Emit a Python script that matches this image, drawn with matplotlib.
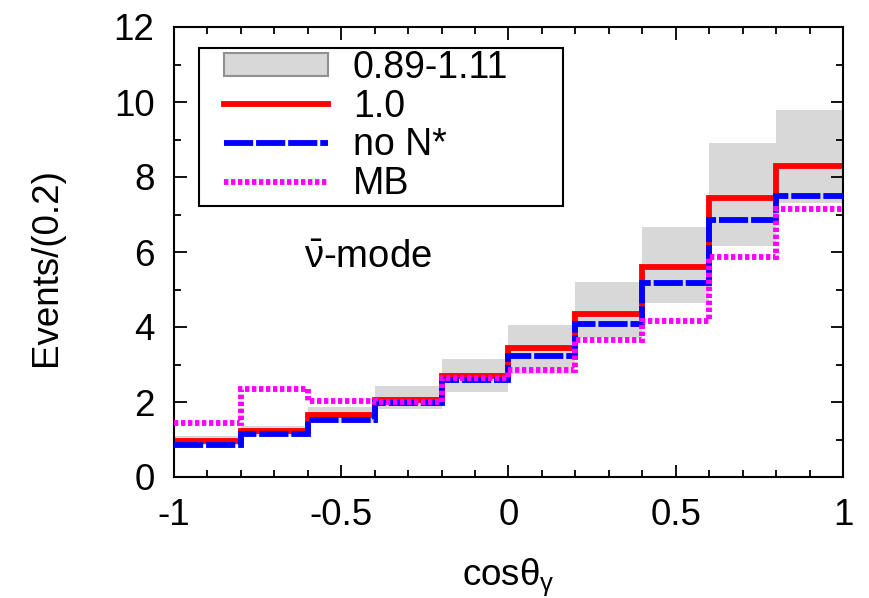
import numpy as np
import matplotlib
matplotlib.use("Agg")
import matplotlib.pyplot as plt
from matplotlib.patches import Patch, Rectangle
from matplotlib.lines import Line2D

plt.rcParams['font.family'] = ['Liberation Sans', 'DejaVu Sans']
plt.rcParams['mathtext.fontset'] = 'custom'
plt.rcParams['mathtext.rm'] = 'Liberation Sans'
plt.rcParams['mathtext.it'] = 'Liberation Sans:italic'

edges = [-1.0, -0.8, -0.6, -0.4, -0.2, 0.0, 0.2, 0.4, 0.6, 0.8, 1.0]
band_low = [0.85, 1.10, 1.45, 1.81, 2.28, 2.75, 3.70, 4.65, 6.17, 7.30]
band_high = [1.10, 1.37, 1.88, 2.43, 3.14, 4.05, 5.19, 6.68, 8.90, 9.80]
red_vals = [0.97, 1.24, 1.65, 2.05, 2.69, 3.43, 4.36, 5.61, 7.45, 8.29]
blue_vals = [0.86, 1.16, 1.52, 1.98, 2.59, 3.23, 4.07, 5.18, 6.85, 7.50]
mb_vals = [1.45, 2.35, 2.04, 2.00, 2.63, 2.85, 3.65, 4.17, 5.87, 7.14]

labels = ['0.89-1.11', '1.0', 'no N*', 'MB']
xticks = [-1, -0.5, 0, 0.5, 1]
xticklabels = ['-1', '-0.5', '0', '0.5', '1']
yticks = [0, 2, 4, 6, 8, 10, 12]

fig = plt.figure(figsize=(8.7, 5.98), dpi=100)
ax = fig.add_axes([174/870, 1-477/598, (843-174)/870, (477-27)/598])

gray = '#d8d8d8'
lw = 4.2
blue_ls = (0, (5, 0.5))
mb_ls = (0, (0.75, 0.45))
ax.stairs(band_high, edges, baseline=band_low, fill=True, color=gray, lw=0, zorder=1)
ax.stairs(red_vals, edges, baseline=None, color='#ff0000', lw=lw, zorder=2)
ax.stairs(blue_vals, edges, baseline=None, color='#0000ff', lw=lw, linestyle=blue_ls, zorder=3)
ax.stairs(mb_vals, edges, baseline=None, color='#ff00ff', lw=lw, linestyle=mb_ls, zorder=4)

ax.set_xlim(-1, 1)
ax.set_ylim(0, 12)
ax.set_xticks(xticks)
ax.set_xticklabels(xticklabels)
ax.set_yticks(yticks)
ax.set_xticks(np.arange(-1, 1.0001, 0.1), minor=True)
ax.set_yticks(np.arange(1, 12, 2), minor=True)
ax.tick_params(which='both', direction='in', top=True, right=True, labelsize=26.5, width=1.3)
ax.tick_params(which='major', length=9)
ax.tick_params(which='minor', length=5)
ax.tick_params(axis='x', which='major', pad=15)
ax.tick_params(axis='y', which='major', pad=14)
for s in ax.spines.values():
    s.set_linewidth(1.5)

ax.set_ylabel('Events/(0.2)', fontsize=26.5)
ax.yaxis.set_label_coords((64-174)/669, (477-267)/450)
ax.set_xlabel(r'cos$\mathrm{\theta}_{\mathrm{\gamma}}$', fontsize=26.5)
ax.xaxis.set_label_coords(0.5, (477-557)/450)

ax.text(-0.61, 5.85, r'$\bar{\mathrm{\nu}}$-mode', fontsize=27.5, ha='left', va='center')

# legend frame
ax.add_patch(Rectangle(((199-174)/669, (477-206)/450), 364/669, 158/450,
                       transform=ax.transAxes, facecolor='white', edgecolor='black',
                       lw=1.5, zorder=5))
handles = [
    Patch(facecolor=gray, edgecolor='#909090', lw=1.5),
    Line2D([], [], color='#ff0000', lw=lw),
    Line2D([], [], color='#0000ff', lw=lw, linestyle=blue_ls),
    Line2D([], [], color='#ff00ff', lw=lw, linestyle=mb_ls),
]
leg = ax.legend(handles, labels, loc='upper left',
                bbox_to_anchor=((224-174)/669, (477-50)/450),
                borderaxespad=0, borderpad=0, fontsize=27, handlelength=2.77,
                handleheight=0.55, handletextpad=0.67, labelspacing=0.07,
                frameon=False)
leg.set_zorder(6)

fig.savefig('out.png', dpi=100)
